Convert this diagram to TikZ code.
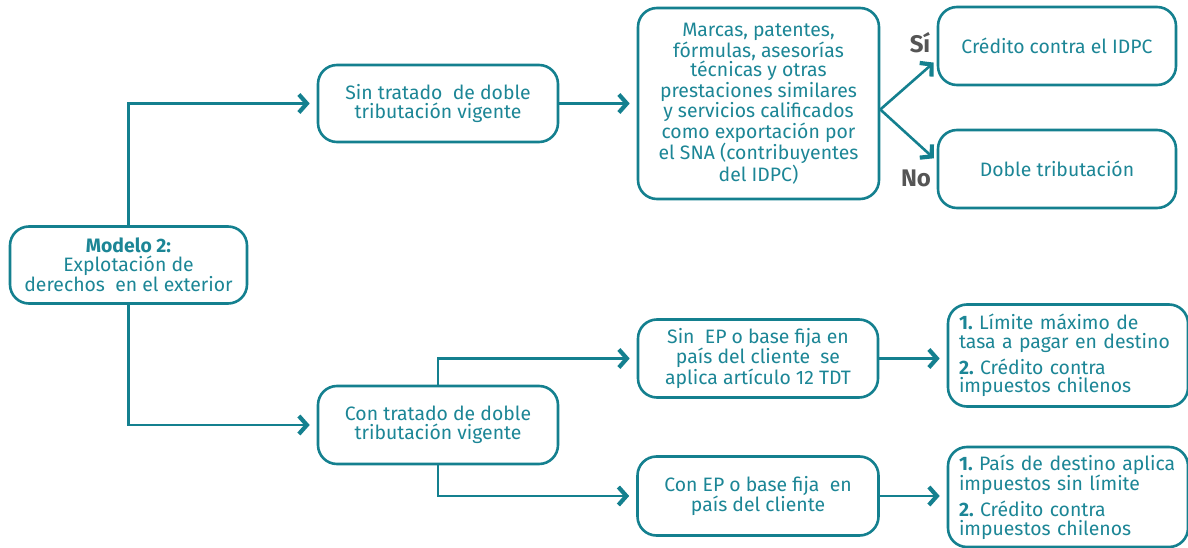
\documentclass[tikz,border=0pt]{standalone}
\usepackage{fontspec}
\setmainfont{Fira Sans}
\usetikzlibrary{arrows.meta}
\frenchspacing
\definecolor{tealc}{RGB}{20,128,143}
\definecolor{teallt}{RGB}{28,134,150}
\definecolor{labgray}{RGB}{85,85,85}
\tikzset{
  box/.style={draw=tealc, line width=2.6pt, rounded corners=19pt, fill=white,
    text=teallt, align=center, inner sep=2pt,
    font=\fontsize{19.4}{18.6}\selectfont},
  lbox/.style={box, align=left},
  conn/.style={draw=tealc, line width=2.6pt,
    -{Straight Barb[length=8pt,width=18pt,line width=4.2pt]}, shorten >=7pt},
  lab/.style={text=labgray, font=\fontsize{24}{24}\selectfont\bfseries}
}
\begin{document}
\begin{tikzpicture}[x=1pt,y=-1pt]
\useasboundingbox (0,0) rectangle (1188,548);
\node[box, minimum width=237pt, minimum height=77pt] (modelo) at (128.5,265)
  {\textbf{Modelo 2:}\\Explotación de\\derechos\ \ en el exterior};
\node[box, minimum width=240pt, minimum height=77pt] (sintr) at (438,103.5)
  {Sin tratado\ \ de doble\\tributación vigente};
\node[box, minimum width=241pt, minimum height=191pt] (marcas) at (758.5,103.5)
  {Marcas, patentes,\\fórmulas, asesorías\\técnicas y otras\\prestaciones similares\\y servicios calificados\\como exportación por\\el SNA (contribuyentes\\del IDPC)};
\node[box, minimum width=238pt, minimum height=78pt] (cred) at (1057,46)
  {Crédito contra el IDPC};
\node[box, minimum width=238pt, minimum height=78pt] (doble) at (1057,169)
  {Doble tributación};
\node[box, minimum width=240pt, minimum height=78pt] (sinep) at (758,358.5)
  {Sin\ \ EP o base fija en\\país del cliente\ \ se\\aplica artículo 12 TDT};
\node[box, minimum width=240pt, minimum height=78pt] (contr) at (438,425)
  {Con tratado de doble\\tributación vigente};
\node[box, minimum width=241pt, minimum height=79pt] (conep) at (758,496)
  {Con EP o base fija\ \ en\\país del cliente};
\node[lbox, minimum width=240pt, minimum height=102pt, text width=218pt] (limite) at (1068,355.5)
  {\textbf{1.} Límite máximo de\\tasa a pagar en destino\\[5pt]\textbf{2.} Crédito contra\\impuestos chilenos};
\node[lbox, minimum width=240pt, minimum height=100pt, text width=218pt] (pais) at (1068,497)
  {\textbf{1.} País de destino aplica\\impuestos sin límite\\[5pt]\textbf{2.} Crédito contra\\impuestos chilenos};
\coordinate (sitip) at (939,58);
\coordinate (notip) at (939,163);
\coordinate (fork) at ([yshift=-6pt]marcas.east);
\node[lab] (si) at (920,43) {Sí};
\node[lab] (no) at (916,178) {No};
\draw[conn] (modelo.north) |- (sintr.west);
\draw[conn] (modelo.south) |- (contr.west);
\draw[conn] (sintr.east) -- (marcas.west);
\draw[conn] (fork) -- (sitip);
\draw[conn] (fork) -- (notip);
\draw[conn] (contr.north) |- (sinep.west);
\draw[conn] (contr.south) |- (conep.west);
\draw[conn] (sinep.east) -- (sinep.east -| limite.west);
\draw[conn] (conep.east) -- (conep.east -| pais.west);
\end{tikzpicture}
\end{document}
